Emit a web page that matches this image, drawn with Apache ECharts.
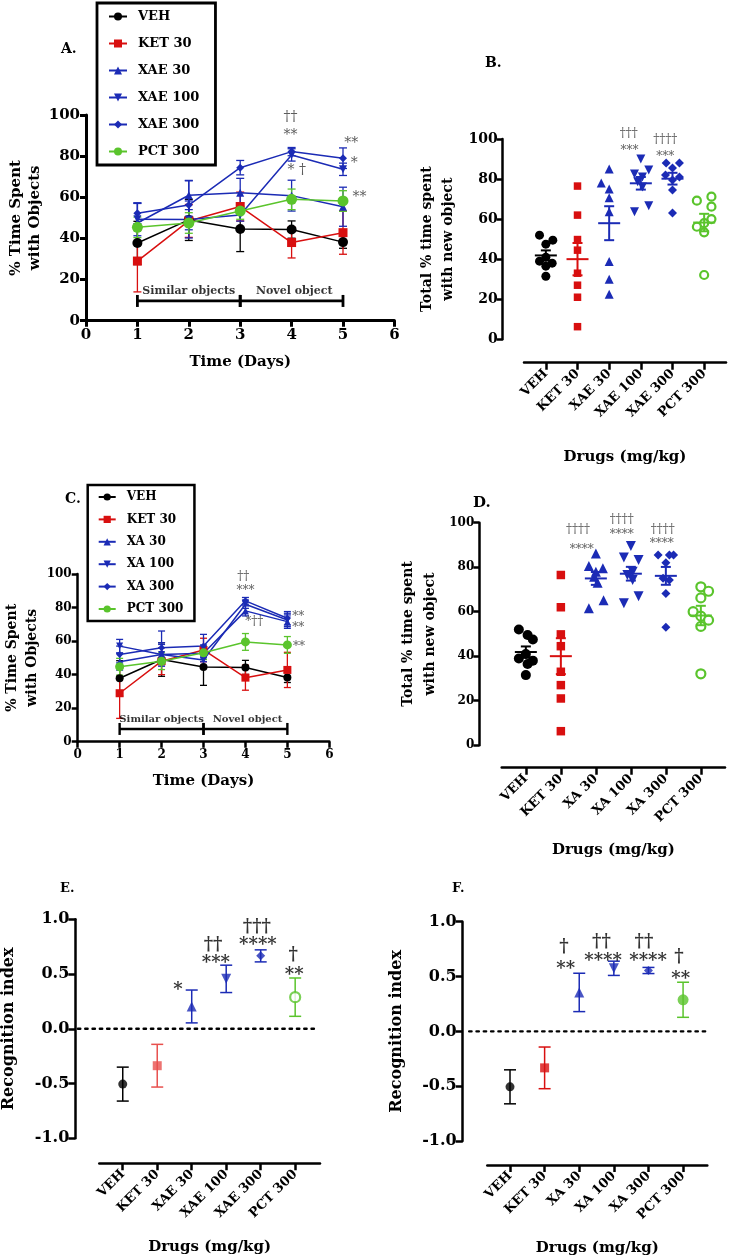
<!DOCTYPE html>
<html><head><meta charset="utf-8">
<script src="https://cdn.jsdelivr.net/npm/echarts@6/dist/echarts.min.js"></script>
<style>html,body{margin:0;padding:0;background:#fff}#c{width:729px;height:1259px}</style>
</head><body><div id="c"></div>
<script>
// ================= DATA =================
const days = [1, 2, 3, 4, 5];
const catsB = ['VEH', 'KET 30', 'XAE 30', 'XAE 100', 'XAE 300', 'PCT 300'];
const catsD = ['VEH', 'KET 30', 'XA 30', 'XA 100', 'XA 300', 'PCT 300'];

// Panel A: % time with objects per day (mean, SEM)
const aVEH = [37.8, 49, 44.6, 44.3, 38.2];      const aVEHErr = [10.5, 10, 11, 4.2, 3];
const aKET = [29, 48.5, 55.5, 38, 42.8];        const aKETErr = [15, 8, 7, 7.5, 10.5];
const aXAE30 = [47.5, 61, 62.2, 60.8, 55.4];    const aXAE30Err = [9.5, 7, 7, 7.5, 9.5];
const aXAE100 = [49.3, 49.2, 51.4, 80.6, 73.6]; const aXAE100Err = [8, 9, 3, 3, 3];
const aXAE300 = [52.2, 56.2, 74.4, 82.2, 79];   const aXAE300Err = [5, 12, 3.5, 2, 5];
const aPCT = [45.4, 47.5, 53.3, 59, 58.2];      const aPCTErr = [5, 5, 4, 5, 5];

// Panel C
const cVEH = [37.8, 49, 44.6, 44.3, 38.3];      const cVEHErr = [10.5, 10, 11, 4.2, 3];
const cKET = [28.9, 48, 54.7, 38.2, 42.8];      const cKETErr = [15, 8, 7, 7.5, 10.5];
const cXA30 = [47.7, 52, 52.7, 78, 71.6];       const cXA30Err = [5, 6, 5, 3, 4];
const cXA100 = [57, 52, 48.7, 82, 72.6];        const cXA100Err = [4, 7, 4, 2.5, 4];
const cXA300 = [52, 56, 57, 84, 73.6];          const cXA300Err = [5, 10, 7, 2, 4];
const cPCT = [44.7, 48, 53, 59.5, 57.7];        const cPCTErr = [5, 5, 4, 5, 5];

// Panels B / D: individual animals (total % time with new object) + horizontal jitter (category units)
const bVEH = [52, 49.5, 47.5, 41, 39, 38, 36.5, 31.5];
const bKET = [76.5, 62, 49.8, 44.5, 33, 27, 21, 6.3];
const bXAE30 = [85, 78, 75, 70.7, 63.7, 38.8, 30, 22.5];
const bXAE100 = [90, 84.5, 82.5, 81, 78.7, 76, 66.7, 63.7];
const bXAE300 = [88, 88, 85.5, 82, 81, 79.5, 74.5, 63];
const bPCT = [71.2, 69.2, 66.2, 60, 58, 56.2, 53.4, 32.1];
const bVEHJit = [-0.2, 0.22, 0, 0, -0.2, 0.2, 0, 0];
const bKETJit = [0, 0, 0, 0, 0, 0, 0, 0];
const bXAE30Jit = [0, -0.25, 0, 0, 0, 0, 0, 0];
const bXAE100Jit = [0, 0.25, -0.2, 0.05, -0.1, 0.05, 0.25, -0.2];
const bXAE300Jit = [-0.2, 0.22, 0, -0.22, 0.22, 0, 0, 0];
const bPCTJit = [0.23, -0.23, 0.23, 0.23, 0, -0.23, 0, 0];

const dXA30 = [86.2, 80.5, 79.5, 78, 75.7, 73, 65.2, 61.5];
const dXA100 = [89.5, 84.4, 83.2, 78, 76.5, 74.2, 67, 63.8];
const dXA300 = [85.5, 85.5, 85.5, 82, 75, 74.2, 68.2, 53];
const dVEHJit = [-0.2, 0.05, 0.2, 0, -0.2, 0.2, 0.05, 0];
const dXA30Jit = [0, -0.2, 0.2, 0, -0.05, 0.05, 0.22, -0.2];
const dXA100Jit = [0, -0.2, 0.22, 0.05, -0.1, 0.05, 0.22, -0.2];
const dXA300Jit = [-0.22, 0.1, 0.22, 0, -0.08, 0.1, 0, 0];
const dPCTJit = [0, 0.22, 0, -0.22, 0, 0.22, 0, 0];

// Panels E / F: recognition index (mean, SEM)
const eMean = [-0.505, -0.337, 0.204, 0.456, 0.666, 0.289];
const eErr = [0.155, 0.195, 0.15, 0.125, 0.055, 0.175];
const fMean = [-0.506, -0.333, 0.355, 0.575, 0.555, 0.288];
const fErr = [0.155, 0.19, 0.175, 0.065, 0.028, 0.16];

// Significance annotations: [x, y, text] in data units
const annA = [[3.98, 99, '††'], [3.98, 90, '**'], [4.1, 73, '* †'], [5.16, 86, '**'], [5.22, 76.5, '*'], [5.32, 60, '**']];
const annC = [[3.95, 98.4, '††'], [4.0, 90, '***'], [4.21, 71.6, '*††'], [5.26, 74.6, '**'], [5.26, 67.6, '**'], [5.28, 56.7, '**']];
const annB = [[2.62, 102.5, '†††'], [2.64, 94, '***'], [3.77, 99.5, '††††'], [3.77, 91, '***']];
const annD = [[1.49, 96.7, '††††'], [1.6, 88, '****'], [2.74, 101.2, '††††'], [2.74, 94.5, '****'], [3.91, 96.7, '††††'], [3.88, 90.4, '****']];
const annE = [[1.6, 0.354, '*'], [2.62, 0.765, '††'], [2.7, 0.6, '***'], [3.89, 0.93, '†††'], [3.92, 0.765, '****'], [4.94, 0.675, '†'], [4.97, 0.49, '**']];
const annF = [[1.56, 0.763, '†'], [1.61, 0.563, '**'], [2.64, 0.81, '††'], [2.69, 0.64, '****'], [3.87, 0.81, '††'], [3.99, 0.64, '****'], [4.88, 0.672, '†'], [4.93, 0.47, '**']];
const phaseA = [[2.0, 14.4, 'Similar objects'], [4.05, 14.4, 'Novel object']];
const phaseC = [[2.0, 13, 'Similar objects'], [4.05, 13, 'Novel object']];

// ================= STYLE / HELPERS =================
const FF = 'DejaVu Serif';
const BLACK = '#000000', RED = '#d80f0f', BLUE = '#1b2bb5', GREEN = '#5ac42c', LRED = '#e8504e';
const grids = [], xAxes = [], yAxes = [], series = [];

const meanOf = a => a.reduce((s, v) => s + v, 0) / a.length;
const semOf = a => { const m = meanOf(a); return Math.sqrt(a.reduce((s, v) => s + (v - m) * (v - m), 0) / (a.length - 1)) / Math.sqrt(a.length); };
const txt = (size, extra) => Object.assign({ fontFamily: FF, fontWeight: 'bold', fontSize: size, color: '#000' }, extra || {});

function axisBase(lw, tl) {
  return {
    axisLine: { show: true, onZero: false, lineStyle: { color: '#000', width: lw } },
    axisTick: { show: true, inside: false, length: tl, lineStyle: { color: '#000', width: lw } },
    splitLine: { show: false }
  };
}

function errBars(gi, rows, colors, cap, lw) {
  return {
    type: 'custom', xAxisIndex: gi, yAxisIndex: gi, clip: false, silent: true, z: 2,
    data: rows, encode: { x: 0, y: [1, 2] },
    renderItem: (p, api) => {
      const x = api.value(0), a = api.coord([x, api.value(1)]), b = api.coord([x, api.value(2)]);
      const c = Array.isArray(colors) ? colors[p.dataIndex] : colors;
      const st = { stroke: c, lineWidth: lw, fill: null };
      return { type: 'group', children: [
        { type: 'line', shape: { x1: a[0], y1: a[1], x2: b[0], y2: b[1] }, style: st },
        { type: 'line', shape: { x1: a[0] - cap, y1: a[1], x2: a[0] + cap, y2: a[1] }, style: st },
        { type: 'line', shape: { x1: b[0] - cap, y1: b[1], x2: b[0] + cap, y2: b[1] }, style: st }
      ] };
    }
  };
}

function meanBars(gi, rows, colors, halfMean, cap) {
  return {
    type: 'custom', xAxisIndex: gi, yAxisIndex: gi, clip: false, silent: true, z: 4,
    data: rows, encode: { x: 0, y: 1 },
    renderItem: (p, api) => {
      const x = api.value(0), m = api.value(1), s = api.value(2);
      const pm = api.coord([x, m]), lo = api.coord([x, m - s]), hi = api.coord([x, m + s]);
      const st = { stroke: colors[p.dataIndex], lineWidth: 2, fill: null };
      return { type: 'group', children: [
        { type: 'line', shape: { x1: pm[0] - halfMean, y1: pm[1], x2: pm[0] + halfMean, y2: pm[1] }, style: st },
        { type: 'line', shape: { x1: lo[0], y1: lo[1], x2: hi[0], y2: hi[1] }, style: st },
        { type: 'line', shape: { x1: lo[0] - cap, y1: lo[1], x2: lo[0] + cap, y2: lo[1] }, style: st },
        { type: 'line', shape: { x1: hi[0] - cap, y1: hi[1], x2: hi[0] + cap, y2: hi[1] }, style: st }
      ] };
    }
  };
}

function ann(gi, items, style) {
  return {
    type: 'scatter', xAxisIndex: gi, yAxisIndex: gi, clip: false, silent: true, z: 10,
    symbolSize: 1, itemStyle: { color: 'rgba(0,0,0,0)' },
    data: items.map(a => ({ value: [a[0], a[1]], label: { formatter: a[2] } })),
    label: Object.assign({ show: true, position: 'inside', fontFamily: FF }, style)
  };
}

function bracket(gi, y, segs, half, lw) {
  return {
    type: 'custom', xAxisIndex: gi, yAxisIndex: gi, clip: false, silent: true, z: 3,
    data: segs.map(s => [s[0], s[1], y]),
    renderItem: (p, api) => {
      const a = api.coord([api.value(0), api.value(2)]), b = api.coord([api.value(1), api.value(2)]);
      const st = { stroke: '#000', lineWidth: lw, fill: null };
      return { type: 'group', children: [
        { type: 'line', shape: { x1: a[0], y1: a[1], x2: b[0], y2: b[1] }, style: st },
        { type: 'line', shape: { x1: a[0], y1: a[1] - half, x2: a[0], y2: a[1] + half }, style: st },
        { type: 'line', shape: { x1: b[0], y1: b[1] - half, x2: b[0], y2: b[1] + half }, style: st }
      ] };
    }
  };
}

function zeroLine(gi, x1, x2) {
  return {
    type: 'custom', xAxisIndex: gi, yAxisIndex: gi, clip: false, silent: true, z: 1,
    data: [[x1, x2, 0]],
    renderItem: (p, api) => {
      const a = api.coord([api.value(0), api.value(2)]), b = api.coord([api.value(1), api.value(2)]);
      return { type: 'line', shape: { x1: a[0], y1: a[1], x2: b[0], y2: b[1] },
        style: { stroke: '#000', lineWidth: 2.4, lineDash: [2.4, 4.9], lineCap: 'round' } };
    }
  };
}

// ---------- line panels (A, C) ----------
function linePanel(gi, grid, o) {
  grids.push(Object.assign({ outerBoundsMode: 'none', containLabel: false }, grid));
  xAxes.push(Object.assign({ gridIndex: gi, type: 'value', min: 0, max: 6, interval: 1,
    axisLabel: txt(o.tickFont, { margin: 7 }),
    name: 'Time (Days)', nameLocation: 'middle', nameGap: o.xNameGap, nameTextStyle: txt(o.xNameFont) }, axisBase(o.lw, 6)));
  yAxes.push(Object.assign({ gridIndex: gi, type: 'value', min: 0, max: 100, interval: 20,
    axisLabel: txt(o.tickFont, { margin: 6 }),
    name: '% Time Spent\nwith Objects', nameLocation: 'middle', nameGap: o.yNameGap,
    nameTextStyle: txt(o.yNameFont, { lineHeight: o.yNameLH }) }, axisBase(o.lw, 6)));
  o.groups.forEach(g => {
    series.push(errBars(gi, days.map((d, i) => [d, g.v[i] - g.e[i], g.v[i] + g.e[i]]), g.c, o.cap, 1.3));
    series.push({ type: 'line', name: g.n, xAxisIndex: gi, yAxisIndex: gi, z: 3,
      data: days.map((d, i) => [d, g.v[i]]), symbol: g.s, symbolSize: g.sz, symbolRotate: g.r || 0,
      lineStyle: { color: g.c, width: 1.5 }, itemStyle: { color: g.c }, emphasis: { disabled: true } });
  });
  series.push(bracket(gi, o.brY, [[1, 3], [3, 5]], 6, o.brLW));
  series.push(ann(gi, o.phase, txt(o.phaseFont)));
  series.push(ann(gi, o.ann, { fontSize: o.annFont, color: '#333' }));
}

// ---------- dot panels (B, D) ----------
function dotPanel(gi, grid, o) {
  grids.push(Object.assign({ outerBoundsMode: 'none', containLabel: false }, grid));
  xAxes.push(Object.assign({ gridIndex: gi, type: 'value', min: -0.69, max: 5.69, offset: o.xOff,
    axisTick: { show: true, customValues: [0, 1, 2, 3, 4, 5], length: 7, lineStyle: { color: '#000', width: o.lw } },
    axisLabel: txt(o.catFont, { customValues: [0, 1, 2, 3, 4, 5], rotate: 45, margin: 9, formatter: v => o.cats[Math.round(v)] }),
    name: 'Drugs (mg/kg)', nameLocation: 'middle', nameGap: o.xNameGap, nameTextStyle: txt(o.xNameFont) },
    { axisLine: { show: true, onZero: false, lineStyle: { color: '#000', width: o.lw } }, splitLine: { show: false } }));
  yAxes.push(Object.assign({ gridIndex: gi, type: 'value', min: 0, max: 100, interval: 20, offset: o.yOff,
    axisLabel: txt(o.tickFont, { margin: 5 }),
    name: 'Total % time spent\nwith new object', nameLocation: 'middle', nameGap: o.yNameGap,
    nameTextStyle: txt(o.yNameFont, { lineHeight: o.yNameLH }) }, axisBase(o.lw, 6)));
  o.groups.forEach((g, i) => {
    series.push({ type: 'scatter', xAxisIndex: gi, yAxisIndex: gi, z: 3, silent: true,
      data: g.v.map((v, k) => [i + g.j[k], v]), symbol: g.s, symbolSize: g.sz, symbolRotate: g.r || 0,
      itemStyle: g.empty ? { color: '#fff', borderColor: g.c, borderWidth: 2.2, opacity: 1 } : { color: g.c, opacity: 1 } });
  });
  series.push(meanBars(gi, o.groups.map((g, i) => [i, meanOf(g.v), semOf(g.v)]), o.groups.map(g => g.c), 11, 5));
  series.push(ann(gi, o.ann, { fontSize: o.annFont, color: '#333' }));
}

// ---------- index panels (E, F) ----------
function idxPanel(gi, grid, o) {
  grids.push(Object.assign({ outerBoundsMode: 'none', containLabel: false }, grid));
  xAxes.push(Object.assign({ gridIndex: gi, type: 'value', min: o.xMin, max: o.xMax, offset: o.xOff,
    axisTick: { show: true, customValues: [0, 1, 2, 3, 4, 5], length: 7, lineStyle: { color: '#000', width: 2.5 } },
    axisLabel: txt(o.catFont, { customValues: [0, 1, 2, 3, 4, 5], rotate: 45, margin: 9, formatter: v => o.cats[Math.round(v)] }),
    name: 'Drugs (mg/kg)', nameLocation: 'middle', nameGap: o.xNameGap, nameTextStyle: txt(15) },
    { axisLine: { show: true, onZero: false, lineStyle: { color: '#000', width: 2.5 } }, splitLine: { show: false } }));
  yAxes.push(Object.assign({ gridIndex: gi, type: 'value', min: -1, max: 1, interval: 0.5, offset: o.yOff,
    axisLabel: txt(16, { margin: 6, formatter: v => v.toFixed(1) }),
    name: 'Recognition index', nameLocation: 'middle', nameGap: o.yNameGap, nameTextStyle: txt(16) }, axisBase(2.5, 7)));
  series.push(zeroLine(gi, o.zx1, o.zx2));
  series.push(errBars(gi, o.mean.map((m, i) => [i, m - o.err[i], m + o.err[i]]), o.cols, 6, 1.5));
  series.push({ type: 'scatter', xAxisIndex: gi, yAxisIndex: gi, z: 3, silent: true,
    data: o.mean.map((m, i) => ({ value: [i, m], symbol: o.sym[i][0], symbolSize: o.sym[i][1], symbolRotate: o.sym[i][2] || 0,
      itemStyle: o.sym[i][3] ? { color: '#fff', borderColor: o.cols[i], borderWidth: 2.2 } : { color: o.cols[i] } })) });
  series.push(ann(gi, o.ann, { fontSize: 18, fontWeight: 'bold', color: '#000' }));
}

// ================= BUILD =================
linePanel(0, { left: 86, top: 115, width: 308.4, height: 205.7 }, {
  lw: 3, tickFont: 15, xNameFont: 15, xNameGap: 34, yNameFont: 15, yNameLH: 19, yNameGap: 39, cap: 4,
  brY: 9.6, brLW: 2.8, phaseFont: 11, annFont: 14, phase: phaseA, ann: annA,
  groups: [
    { n: 'VEH', v: aVEH, e: aVEHErr, c: BLACK, s: 'circle', sz: 10 },
    { n: 'KET 30', v: aKET, e: aKETErr, c: RED, s: 'rect', sz: 9 },
    { n: 'XAE 30', v: aXAE30, e: aXAE30Err, c: BLUE, s: 'triangle', sz: 8 },
    { n: 'XAE 100', v: aXAE100, e: aXAE100Err, c: BLUE, s: 'triangle', sz: 8, r: 180 },
    { n: 'XAE 300', v: aXAE300, e: aXAE300Err, c: BLUE, s: 'diamond', sz: 8 },
    { n: 'PCT 300', v: aPCT, e: aPCTErr, c: GREEN, s: 'circle', sz: 11 }
  ]
});
dotPanel(1, { left: 524, top: 139, width: 202, height: 200.3 }, {
  lw: 2.5, xOff: 23.4, yOff: 21.3, tickFont: 14, catFont: 13, xNameFont: 15, xNameGap: 87,
  yNameFont: 14, yNameLH: 21, yNameGap: 44, annFont: 12, cats: catsB, ann: annB,
  groups: [
    { v: bVEH, j: bVEHJit, c: BLACK, s: 'circle', sz: 9 },
    { v: bKET, j: bKETJit, c: RED, s: 'rect', sz: 7.5 },
    { v: bXAE30, j: bXAE30Jit, c: BLUE, s: 'triangle', sz: 9 },
    { v: bXAE100, j: bXAE100Jit, c: BLUE, s: 'triangle', sz: 9, r: 180 },
    { v: bXAE300, j: bXAE300Jit, c: BLUE, s: 'diamond', sz: 9 },
    { v: bPCT, j: bPCTJit, c: GREEN, s: 'circle', sz: 8, empty: true }
  ]
});
linePanel(2, { left: 77.7, top: 574, width: 251.6, height: 167.7 }, {
  lw: 2.5, tickFont: 12, xNameFont: 15, xNameGap: 32, yNameFont: 14, yNameLH: 20, yNameGap: 32, cap: 3.5,
  brY: 7.6, brLW: 2.4, phaseFont: 10, annFont: 12, phase: phaseC, ann: annC,
  groups: [
    { n: 'VEH', v: cVEH, e: cVEHErr, c: BLACK, s: 'circle', sz: 8 },
    { n: 'KET 30', v: cKET, e: cKETErr, c: RED, s: 'rect', sz: 8 },
    { n: 'XA 30', v: cXA30, e: cXA30Err, c: BLUE, s: 'triangle', sz: 7 },
    { n: 'XA 100', v: cXA100, e: cXA100Err, c: BLUE, s: 'triangle', sz: 7, r: 180 },
    { n: 'XA 300', v: cXA300, e: cXA300Err, c: BLUE, s: 'diamond', sz: 7 },
    { n: 'PCT 300', v: cPCT, e: cPCTErr, c: GREEN, s: 'circle', sz: 9 }
  ]
});
dotPanel(3, { left: 501.7, top: 522.7, width: 223.3, height: 222.5 }, {
  lw: 2.5, xOff: 22.5, yOff: 22.4, tickFont: 12, catFont: 13, xNameFont: 15, xNameGap: 75,
  yNameFont: 14, yNameLH: 22, yNameGap: 38, annFont: 12, cats: catsD, ann: annD,
  groups: [
    { v: bVEH, j: dVEHJit, c: BLACK, s: 'circle', sz: 10 },
    { v: bKET, j: bKETJit, c: RED, s: 'rect', sz: 8.5 },
    { v: dXA30, j: dXA30Jit, c: BLUE, s: 'triangle', sz: 10 },
    { v: dXA100, j: dXA100Jit, c: BLUE, s: 'triangle', sz: 10, r: 180 },
    { v: dXA300, j: dXA300Jit, c: BLUE, s: 'diamond', sz: 9 },
    { v: bPCT, j: dPCTJit, c: GREEN, s: 'circle', sz: 9, empty: true }
  ]
});
idxPanel(4, { left: 99.3, top: 919.3, width: 220.7, height: 219 }, {
  xMin: -0.68, xMax: 5.72, xOff: 25, yOff: 24, yNameGap: 58, xNameGap: 76, catFont: 13,
  zx1: -1.3, zx2: 5.66, cats: catsB, mean: eMean, err: eErr, ann: annE,
  cols: [BLACK, LRED, BLUE, BLUE, BLUE, GREEN],
  sym: [['circle', 9], ['rect', 9], ['triangle', 10], ['triangle', 10, 180], ['diamond', 9], ['circle', 10, 0, true]]
});
idxPanel(5, { left: 487.3, top: 921.7, width: 220, height: 219.3 }, {
  xMin: -0.656, xMax: 5.70, xOff: 24, yOff: 24.6, yNameGap: 58, xNameGap: 76, catFont: 13,
  zx1: -1.18, zx2: 5.66, cats: catsD, mean: fMean, err: fErr, ann: annF,
  cols: [BLACK, RED, BLUE, BLUE, BLUE, GREEN],
  sym: [['circle', 9], ['rect', 9], ['triangle', 10], ['triangle', 10, 180], ['diamond', 9], ['circle', 11]]
});

const titleStyle = s => ({ fontFamily: FF, fontWeight: 'bold', fontSize: s, color: '#000' });
const option = {
  animation: false,
  backgroundColor: '#fff',
  title: [
    { text: 'A.', left: 61, top: 42, padding: 0, textStyle: titleStyle(14) },
    { text: 'B.', left: 485, top: 56, padding: 0, textStyle: titleStyle(14) },
    { text: 'C.', left: 65, top: 492, padding: 0, textStyle: titleStyle(14) },
    { text: 'D.', left: 473, top: 496, padding: 0, textStyle: titleStyle(15) },
    { text: 'E.', left: 60, top: 882, padding: 0, textStyle: titleStyle(13) },
    { text: 'F.', left: 452, top: 882, padding: 0, textStyle: titleStyle(13) }
  ],
  legend: [
    { left: 97, top: 3, orient: 'vertical', selectedMode: false,
      data: ['VEH', 'KET 30', 'XAE 30', 'XAE 100', 'XAE 300', 'PCT 300'],
      borderColor: '#000', borderWidth: 2.8, padding: [7, 16, 7, 11], itemGap: 14, itemWidth: 18, itemHeight: 10,
      textStyle: txt(13, { padding: [0, 0, 0, 6] }) },
    { left: 87.7, top: 485, orient: 'vertical', selectedMode: false,
      data: ['VEH', 'KET 30', 'XA 30', 'XA 100', 'XA 300', 'PCT 300'],
      borderColor: '#000', borderWidth: 2.5, padding: [6, 11, 6, 10], itemGap: 10.4, itemWidth: 17, itemHeight: 9,
      textStyle: txt(12, { padding: [0, 0, 0, 6] }) }
  ],
  grid: grids, xAxis: xAxes, yAxis: yAxes, series: series
};
const chart = echarts.init(document.getElementById('c'), null, { renderer: 'canvas' });
chart.setOption(option);
</script></body></html>
